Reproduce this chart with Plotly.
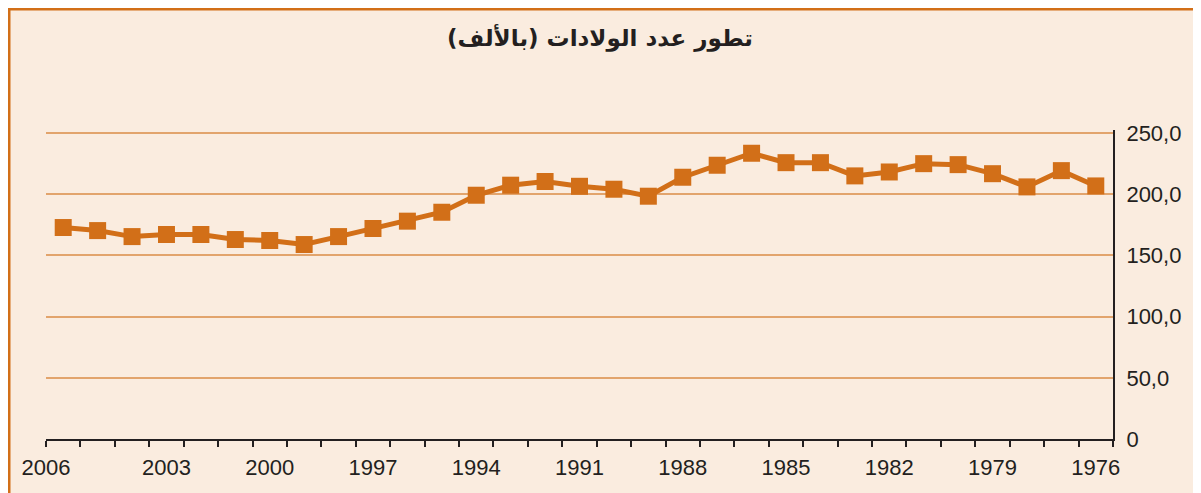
import plotly.graph_objects as go

years = [2006, 2005, 2004, 2003, 2002, 2001, 2000, 1999, 1998, 1997, 1996,
         1995, 1994, 1993, 1992, 1991, 1990, 1989, 1988, 1987, 1986, 1985,
         1984, 1983, 1982, 1981, 1980, 1979, 1978, 1977, 1976]
births = [172.8, 170.3, 165.4, 167.1, 167.1, 163.0, 162.2, 158.9, 165.4, 172.0,
          178.0, 185.3, 199.2, 207.4, 210.4, 206.5, 204.1, 198.4, 213.9, 223.7,
          233.5, 225.8, 225.8, 215.0, 218.2, 225.0, 224.2, 216.8, 206.0, 219.3,
          206.8]
label_years = [2006, 2003, 2000, 1997, 1994, 1991, 1988, 1985, 1982, 1979, 1976]
y_vals = [0, 50, 100, 150, 200, 250]
y_text = ["0", "50,0", "100,0", "150,0", "200,0", "250,0"]
title = "تطور عدد الولادات (بالألف)"

# page body has an 8px margin; size the figure to fill the 1201x493 window
OFF = 8
W, H = 1201 - OFF, 493 - OFF
Y_TOP = 252.5
ML = 46 - OFF
MR = W - (1113 - OFF)
MT = 130 - OFF
MB = H - (439 - OFF)
PW, PH = W - ML - MR, H - MT - MB

ORANGE = "#D26F18"
GRID = "#E2A46C"
BG = "#FAECDF"
INK = "#231F20"

xr = [max(years) + 0.5, min(years) - 0.5]
boundaries = [y + 0.5 for y in years] + [min(years) - 0.5]
label_pos = [y + 0.5 if y == max(years) else y for y in label_years]

fig = go.Figure()
fig.add_trace(go.Scatter(
    x=years, y=births, mode="lines+markers",
    line=dict(color=ORANGE, width=5),
    marker=dict(symbol="square", size=17, color=ORANGE),
    xaxis="x", yaxis="y", showlegend=False, hoverinfo="x+y"))

def px_x(p):
    return (p - ML) / PW

def px_y(p):
    return (H - MB - p) / PH

fig.add_shape(type="rect", xref="paper", yref="paper",
              x0=px_x(1), x1=px_x(W + 10), y0=px_y(H + 10), y1=px_y(1),
              fillcolor=BG, line=dict(color=ORANGE, width=3), layer="below")

fig.update_layout(
    width=W, height=H,
    margin=dict(l=ML, r=MR, t=MT, b=MB),
    paper_bgcolor="white", plot_bgcolor="rgba(0,0,0,0)",
    title=dict(text="<b>" + title + "</b>", x=(600 - OFF) / W, xref="container",
               xanchor="center", y=1 - (38 - OFF) / H, yref="container",
               yanchor="middle",
               font=dict(family="DejaVu Sans", size=23, color=INK)),
    xaxis=dict(range=xr, tickmode="array", tickvals=boundaries,
               showticklabels=False, ticks="outside", ticklen=6, tickwidth=2,
               tickcolor=INK, showline=True, linecolor=INK, linewidth=2,
               showgrid=False, zeroline=False, fixedrange=True),
    xaxis2=dict(range=xr, overlaying="x", side="bottom", tickmode="array",
                tickvals=label_pos, ticktext=[str(v) for v in label_years],
                ticks="", showline=False, showgrid=False, zeroline=False,
                ticklabelstandoff=13,
                tickfont=dict(family="Liberation Sans", size=22, color=INK)),
    yaxis=dict(range=[0, Y_TOP], side="right", tickmode="array", tickvals=y_vals,
               ticktext=y_text, ticks="", showline=True, linecolor=INK,
               linewidth=2, showgrid=True, gridcolor=GRID, gridwidth=1.5,
               zeroline=False, ticklabelstandoff=7,
               tickfont=dict(family="Liberation Sans", size=22, color=INK)),
)
fig.add_trace(go.Scatter(x=[years[0]], y=[None], xaxis="x2", yaxis="y",
                         showlegend=False, hoverinfo="skip", mode="markers",
                         marker=dict(opacity=0)))

fig.write_html("out.html")
